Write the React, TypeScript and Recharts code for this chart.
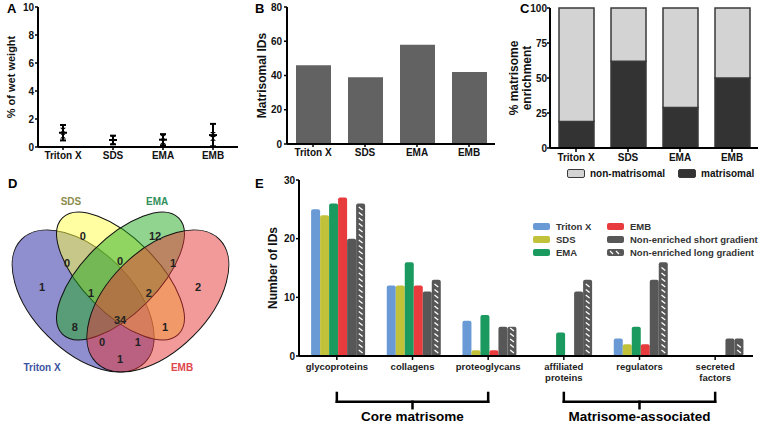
import React from 'react';
import {
  BarChart,
  Bar,
  ComposedChart,
  ScatterChart,
  Scatter,
  XAxis,
  YAxis,
  ErrorBar,
  Label,
  Legend,
  ReferenceLine,
} from 'recharts';

// shared extraction methods (A, B, C)
const extractions = ['Triton X', 'SDS', 'EMA', 'EMB'];

// A: yield as % of wet weight (mean, SD and two replicates)
const wetWeightMean = [1.02, 0.5, 0.52, 0.85];
const wetWeightSd = [0.55, 0.31, 0.4, 0.8];
const wetWeightRepLow = [0.78, 0.36, 0.37, 0.62];
const wetWeightRepHigh = [1.2, 0.64, 0.7, 0.9];
const wetWeightTicks = [0, 2, 4, 6, 8, 10];

// B: number of matrisomal IDs
const matrisomalIds = [46, 39, 58, 42];
const matrisomalIdTicks = [0, 20, 40, 60, 80];

// C: % matrisome enrichment
const matrisomalPct = [19, 62, 29, 50];
const nonMatrisomalPct = [81, 38, 71, 50];
const enrichmentTicks = [0, 25, 50, 75, 100];

// D: venn of matrisomal IDs
const vennSets = ['Triton X', 'SDS', 'EMA', 'EMB'];
// T, S, EMA, EMB only | T∩S, S∩EMA, EMA∩EMB | T∩S∩EMA, S∩EMA∩EMB | all | T∩EMA, S∩EMB | 0, 1 | T∩EMB
const vennRegionCounts = [1, 0, 12, 2, 0, 0, 1, 1, 2, 34, 8, 1, 0, 1, 1];

// E: number of IDs per matrisome category
const matrisomeCategories = [
  'glycoproteins',
  'collagens',
  'proteoglycans',
  'affiliated proteins',
  'regulators',
  'secreted factors',
];
const tritonIds = [25, 12, 6, 0, 3, 0];
const sdsIds = [24, 12, 1, 0, 2, 0];
const emaIds = [26, 16, 7, 4, 5, 0];
const embIds = [27, 12, 1, 0, 2, 0];
const shortGradientIds = [20, 11, 5, 11, 13, 3];
const longGradientIds = [26, 13, 5, 13, 16, 3];
const idTicks = [0, 10, 20, 30];
const eSeriesNames = [
  'Triton X',
  'SDS',
  'EMA',
  'EMB',
  'Non-enriched short gradient',
  'Non-enriched long gradient',
];

// ---- styling / layout
const FONT = '"Liberation Sans", Arial, Helvetica, sans-serif';
const axisLine = { stroke: '#000', strokeWidth: 2 };
const tickLine = { stroke: '#000', strokeWidth: 1.5 };
const tickFont = { fontSize: 10, fontWeight: 700, fill: '#111' };
const eColors = ['#6a9ad6', '#c2c13a', '#1b9a5f', '#e83b3d', '#575757', '#575757'];
const eKeys = ['triton', 'sds', 'ema', 'emb', 'short', 'long'];

const VENN_PX = 249;
// R VennDiagram quad layout, in unit coords (y up)
const vennShapes = [
  { u: 0.35, v: 0.47, a: 0.35, b: 0.2, rot: 45, fill: '#2020a0' },
  { u: 0.5, v: 0.57, a: 0.33, b: 0.15, rot: 45, fill: '#ffff44' },
  { u: 0.5, v: 0.57, a: 0.33, b: 0.15, rot: -45, fill: '#22aa22' },
  { u: 0.65, v: 0.47, a: 0.35, b: 0.2, rot: -45, fill: '#e63333' },
];
const vennRegionSpots = [
  [0.185, 0.525], [0.349, 0.73], [0.639, 0.73], [0.811, 0.525],
  [0.285, 0.621], [0.498, 0.629], [0.711, 0.621],
  [0.382, 0.501], [0.614, 0.501],
  [0.498, 0.392],
  [0.317, 0.364], [0.679, 0.364],
  [0.426, 0.304], [0.57, 0.304],
  [0.498, 0.236],
];
const vennSetSpots = [[0.185, 0.204], [0.301, 0.87], [0.647, 0.87], [0.747, 0.204]];
const vennSetColors = ['#3b52a0', '#8c8c4c', '#2f8f5a', '#e0464c'];

const aRows = extractions.map((name, i) => ({
  name,
  mean: wetWeightMean[i],
  sd: wetWeightSd[i],
  lo: wetWeightRepLow[i],
  hi: wetWeightRepHigh[i],
}));
const bRows = extractions.map((name, i) => ({ name, ids: matrisomalIds[i] }));
const cRows = extractions.map((name, i) => ({
  name,
  matrisomal: matrisomalPct[i],
  non: nonMatrisomalPct[i],
}));
const eRows = matrisomeCategories.map((name, i) => ({
  name,
  triton: tritonIds[i],
  sds: sdsIds[i],
  ema: emaIds[i],
  emb: embIds[i],
  short: shortGradientIds[i],
  long: longGradientIds[i],
}));
const vennShapeRows = vennShapes.map((s, i) => ({ ...s, name: vennSets[i] }));
const vennRegionRows = vennRegionCounts.map((count, i) => ({
  u: vennRegionSpots[i][0],
  v: vennRegionSpots[i][1],
  count,
}));
const vennSetRows = vennSets.map((name, i) => ({
  u: vennSetSpots[i][0],
  v: vennSetSpots[i][1],
  name,
  color: vennSetColors[i],
}));

const MeanTick = (p: any) => (
  <line x1={p.cx - 4} x2={p.cx + 4} y1={p.cy} y2={p.cy} stroke="#000" strokeWidth={2} />
);
const Bowtie = (p: any) => (
  <path
    d={`M${p.cx - 3},${p.cy - 2.5} L${p.cx + 3},${p.cy - 2.5} L${p.cx - 3},${p.cy + 2.5} L${p.cx + 3},${p.cy + 2.5} Z`}
    fill="#000"
  />
);

const HatchedBar = (p: any) => {
  const { x, y, width, height, fill } = p;
  if (!height || height <= 0) return null;
  const dashes = [];
  for (let yy = y + height - 3; yy > y + 4; yy -= 5.5) {
    dashes.push(
      <line
        key={yy}
        x1={x + width * 0.3}
        y1={yy - 3}
        x2={x + width * 0.72}
        y2={yy}
        stroke="#fff"
        strokeWidth={1.3}
      />
    );
  }
  return (
    <g>
      <rect x={x} y={y} width={width} height={height} rx={2} fill={fill} />
      {dashes}
    </g>
  );
};

const CategoryTick = (p: any) => {
  const words = String(p.payload.value).split(' ');
  return (
    <g transform={`translate(${p.x},${p.y})`}>
      {words.map((w, i) => (
        <text
          key={w}
          x={0}
          y={0}
          dy={8 + i * 11}
          textAnchor="middle"
          fontSize={9.5}
          fontWeight={700}
          fill="#222"
        >
          {w}
        </text>
      ))}
    </g>
  );
};

const TwoLineTitle = (p: any) => {
  const vb = p.viewBox || { x: 0, y: 0, height: 0 };
  const cy = vb.y + vb.height / 2;
  const lines = ['% matrisome', 'enrichment'];
  return (
    <g>
      {lines.map((t, i) => {
        const cx = vb.x + 24 + i * 13;
        return (
          <text
            key={t}
            x={cx}
            y={cy}
            transform={`rotate(-90 ${cx} ${cy})`}
            textAnchor="middle"
            dominantBaseline="central"
            fontSize={12}
            fontWeight={700}
            fill="#111"
          >
            {t}
          </text>
        );
      })}
    </g>
  );
};

const CLegend = () => {
  const items = [
    { name: 'non-matrisomal', fill: '#d3d3d3', left: 0 },
    { name: 'matrisomal', fill: '#333', left: 111 },
  ];
  return (
    <div style={{ position: 'relative', width: 190, height: 12 }}>
      {items.map((it) => (
        <div
          key={it.name}
          style={{ position: 'absolute', left: it.left, top: 0, display: 'flex', alignItems: 'center' }}
        >
          <span
            style={{
              display: 'inline-block',
              width: 16,
              height: 7,
              background: it.fill,
              border: '1.5px solid #3a3a3a',
              borderRadius: 2,
              marginRight: 5,
            }}
          />
          <span style={{ fontSize: 10, fontWeight: 700, color: '#111', whiteSpace: 'nowrap' }}>{it.name}</span>
        </div>
      ))}
    </div>
  );
};

const ELegend = () => (
  <div
    style={{
      display: 'grid',
      gridTemplateColumns: '74px auto',
      gridTemplateRows: '13px 13px 13px',
      gridAutoFlow: 'column',
    }}
  >
    {eSeriesNames.map((name, i) => (
      <div key={name} style={{ display: 'flex', alignItems: 'center' }}>
        <svg width={17} height={7} style={{ marginRight: 6 }}>
          <rect x={0} y={0} width={17} height={7} rx={2} fill={eColors[i]} />
          {i === 5 && (
            <g stroke="#fff" strokeWidth={1.2}>
              <line x1={3} y1={2} x2={6} y2={5} />
              <line x1={9} y1={2} x2={12} y2={5} />
            </g>
          )}
        </svg>
        <span style={{ fontSize: 9.5, fontWeight: 700, color: '#333', whiteSpace: 'nowrap' }}>{name}</span>
      </div>
    ))}
  </div>
);

const bracketStyle = { stroke: '#000', strokeWidth: 2.5, strokeLinecap: 'square' as const };
const Bracket = (from: string, mid: string, to: string, text: string) => [
  <ReferenceLine key={text + 'l'} ifOverflow="visible" segment={[{ x: from, y: -6.3 }, { x: from, y: -7.8 }]} {...bracketStyle} />,
  <ReferenceLine key={text + 'h'} ifOverflow="visible" segment={[{ x: from, y: -7.8 }, { x: to, y: -7.8 }]} {...bracketStyle} />,
  <ReferenceLine key={text + 'r'} ifOverflow="visible" segment={[{ x: to, y: -6.3 }, { x: to, y: -7.8 }]} {...bracketStyle} />,
  <ReferenceLine
    key={text + 'm'}
    ifOverflow="visible"
    segment={[{ x: mid, y: -7.8 }, { x: mid, y: -8.9 }]}
    {...bracketStyle}
    label={{ value: text, position: 'bottom', offset: 3, fill: '#000', fontSize: 13.5, fontWeight: 700 }}
  />,
];

const Letter = ({ ch, left, top }: { ch: string; left: number; top: number }) => (
  <div style={{ position: 'absolute', left, top, fontSize: 13, fontWeight: 700, lineHeight: 1 }}>{ch}</div>
);

export default function App() {
  return (
    <div
      style={{
        position: 'absolute',
        left: 0,
        top: 0,
        width: 760,
        height: 428,
        background: '#fff',
        fontFamily: FONT,
        overflow: 'hidden',
      }}
    >
      {/* A */}
      <div style={{ position: 'absolute', left: 0, top: 0 }}>
        <ComposedChart width={245} height={170} data={aRows} margin={{ top: 7, right: 7, bottom: 3, left: 0 }}>
          <XAxis
            dataKey="name"
            interval={0}
            height={20}
            padding={{ left: 25, right: 25 }}
            tick={tickFont}
            axisLine={axisLine}
            tickLine={tickLine}
            tickSize={3}
            tickMargin={2}
          />
          <YAxis
            domain={[0, 10]}
            ticks={wetWeightTicks}
            interval={0}
            width={38}
            tick={tickFont}
            axisLine={axisLine}
            tickLine={tickLine}
            tickSize={3}
            tickMargin={1}
          >
            <Label
              value="% of wet weight"
              angle={-90}
              position="insideLeft"
              offset={11}
              style={{ textAnchor: 'middle', fontSize: 11, fontWeight: 700, fill: '#111' }}
            />
          </YAxis>
          <Scatter dataKey="lo" shape={Bowtie} isAnimationActive={false} />
          <Scatter dataKey="hi" shape={Bowtie} isAnimationActive={false} />
          <Scatter dataKey="mean" shape={MeanTick} isAnimationActive={false}>
            <ErrorBar dataKey="sd" direction="y" width={3} strokeWidth={2} stroke="#000" />
          </Scatter>
        </ComposedChart>
      </div>

      {/* B */}
      <div style={{ position: 'absolute', left: 245, top: 0 }}>
        <BarChart width={255} height={170} data={bRows} margin={{ top: 7, right: 5, bottom: 6, left: 0 }}>
          <XAxis
            dataKey="name"
            interval={0}
            height={20}
            tick={tickFont}
            axisLine={axisLine}
            tickLine={tickLine}
            tickSize={3}
            tickMargin={2}
          />
          <YAxis
            domain={[0, 80]}
            ticks={matrisomalIdTicks}
            interval={0}
            width={42}
            tick={tickFont}
            axisLine={axisLine}
            tickLine={tickLine}
            tickSize={3}
            tickMargin={2}
          >
            <Label
              value="Matrisomal IDs"
              angle={-90}
              position="insideLeft"
              offset={17}
              style={{ textAnchor: 'middle', fontSize: 12, fontWeight: 700, fill: '#111' }}
            />
          </YAxis>
          <Bar dataKey="ids" fill="#626262" barSize={35} isAnimationActive={false} />
        </BarChart>
      </div>

      {/* C */}
      <div style={{ position: 'absolute', left: 490, top: 0 }}>
        <BarChart width={270} height={190} data={cRows} margin={{ top: 8, right: 2, bottom: 22, left: 0 }}>
          <XAxis
            dataKey="name"
            interval={0}
            height={20}
            tick={tickFont}
            axisLine={axisLine}
            tickLine={tickLine}
            tickSize={4}
            tickMargin={2}
          />
          <YAxis
            domain={[0, 100]}
            ticks={enrichmentTicks}
            interval={0}
            width={60}
            tick={tickFont}
            axisLine={axisLine}
            tickLine={tickLine}
            tickSize={3}
            tickMargin={0}
          >
            <Label content={TwoLineTitle} />
          </YAxis>
          <Bar dataKey="matrisomal" stackId="c" fill="#333333" stroke="#3a3a3a" strokeWidth={1.5} barSize={35} isAnimationActive={false} />
          <Bar dataKey="non" stackId="c" fill="#d3d3d3" stroke="#3a3a3a" strokeWidth={1.5} barSize={35} isAnimationActive={false} />
          <Legend
            content={CLegend}
            layout="horizontal"
            verticalAlign="middle"
            align="center"
            wrapperStyle={{ left: 77, top: 168, width: 190, height: 12 }}
          />
        </BarChart>
      </div>

      {/* D */}
      <div style={{ position: 'absolute', left: -4, top: 169 }}>
        <ScatterChart width={VENN_PX} height={VENN_PX} margin={{ top: 0, right: 0, bottom: 0, left: 0 }}>
          <XAxis type="number" dataKey="u" domain={[0, 1]} allowDataOverflow hide />
          <YAxis type="number" dataKey="v" domain={[0, 1]} allowDataOverflow hide />
          <Scatter
            data={vennShapeRows}
            isAnimationActive={false}
            shape={(p: any) => (
              <ellipse
                cx={p.cx}
                cy={p.cy}
                rx={p.payload.a * VENN_PX}
                ry={p.payload.b * VENN_PX}
                transform={`rotate(${p.payload.rot} ${p.cx} ${p.cy})`}
                fill={p.payload.fill}
                fillOpacity={0.5}
                stroke="#111"
                strokeWidth={1}
              />
            )}
          />
          <Scatter
            data={vennRegionRows}
            isAnimationActive={false}
            shape={(p: any) => (
              <text x={p.cx} y={p.cy} textAnchor="middle" dominantBaseline="central" fontSize={11} fontWeight={700} fill="#222">
                {p.payload.count}
              </text>
            )}
          />
          <Scatter
            data={vennSetRows}
            isAnimationActive={false}
            shape={(p: any) => (
              <text x={p.cx} y={p.cy} textAnchor="middle" dominantBaseline="central" fontSize={10} fontWeight={700} fill={p.payload.color}>
                {p.payload.name}
              </text>
            )}
          />
        </ScatterChart>
      </div>

      {/* E */}
      <div style={{ position: 'absolute', left: 250, top: 175 }}>
        <BarChart
          width={510}
          height={253}
          data={eRows}
          margin={{ top: 5, right: 7, bottom: 40, left: 0 }}
          barCategoryGap="16%"
          barGap={0}
        >
          <XAxis
            dataKey="name"
            interval={0}
            height={32}
            tick={<CategoryTick />}
            axisLine={axisLine}
            tickLine={tickLine}
            tickSize={4}
            tickMargin={2}
          />
          <YAxis
            domain={[0, 30]}
            ticks={idTicks}
            interval={0}
            width={49}
            tick={tickFont}
            axisLine={axisLine}
            tickLine={tickLine}
            tickSize={3}
            tickMargin={1}
          >
            <Label
              value="Number of IDs"
              angle={-90}
              position="insideLeft"
              offset={23}
              style={{ textAnchor: 'middle', fontSize: 12, fontWeight: 700, fill: '#111' }}
            />
          </YAxis>
          {eKeys.map((k, i) =>
            k === 'long' ? (
              <Bar key={k} dataKey={k} name={eSeriesNames[i]} fill={eColors[i]} shape={HatchedBar} isAnimationActive={false} />
            ) : (
              <Bar key={k} dataKey={k} name={eSeriesNames[i]} fill={eColors[i]} radius={[2, 2, 0, 0]} isAnimationActive={false} />
            )
          )}
          {Bracket('glycoproteins', 'collagens', 'proteoglycans', 'Core matrisome')}
          {Bracket('affiliated proteins', 'regulators', 'secreted factors', 'Matrisome-associated')}
          <Legend
            content={ELegend}
            layout="horizontal"
            verticalAlign="middle"
            align="center"
            wrapperStyle={{ left: 283, top: 45, width: 225, height: 39 }}
          />
        </BarChart>
      </div>

      <Letter ch="A" left={7} top={2} />
      <Letter ch="B" left={255} top={2} />
      <Letter ch="C" left={520} top={2} />
      <Letter ch="D" left={8} top={177} />
      <Letter ch="E" left={255} top={177} />
    </div>
  );
}
